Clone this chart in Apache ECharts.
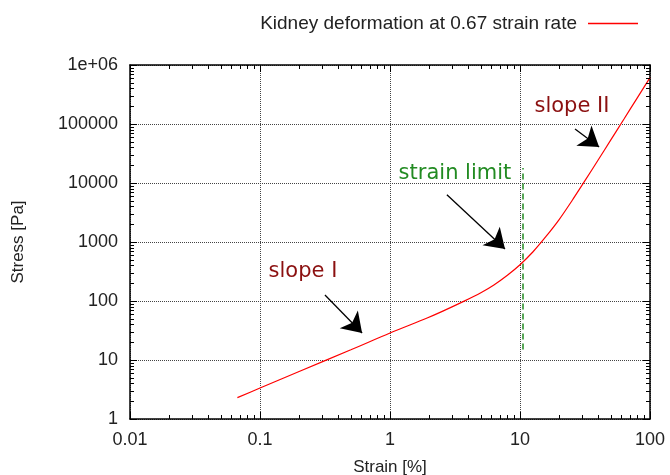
<!DOCTYPE html>
<html>
<head>
<meta charset="utf-8">
<script src="https://cdn.jsdelivr.net/npm/echarts@6/dist/echarts.min.js"></script>
<style>
  html, body { margin: 0; padding: 0; background: #fff; }
  #main { width: 670px; height: 475px; }
</style>
</head>
<body>
<div id="main"></div>
<script>
var chart = echarts.init(document.getElementById('main'), null, { renderer: 'canvas' });

// strain [%] and stress [Pa]
var strain = [0.067, 0.1, 0.2, 0.5, 1, 1.93, 2.5, 3.65, 5, 6.3, 8, 10, 12.6, 15.8, 20, 25.1, 31.6, 39.8, 50.1, 63.1, 79.4, 100];
var stress = [2.3, 3.35, 6.4, 14.9, 28.7, 51.5, 66, 97.5, 138, 187, 273, 412, 684, 1230, 2400, 5010, 10960, 24300, 54300, 121600, 272000, 610000];

var xDecades = [0.01, 0.1, 1, 10];
var yDecades = [1, 10, 100, 1000, 10000, 100000];

// strain limit line
var limitX = 10.5;
var limitY = [15, 18000];

// annotations: [text, x, y, colour]
var notes = [
    ['slope I', 0.214, 315, '#8b1010'],
    ['strain limit', 3.16, 14500, '#228b22'],
    ['slope II', 25.1, 200000, '#8b1010']
];
// arrows: [[x1, y1], [x2, y2]]
var arrows = [
    [[0.316, 126], [0.61, 28.7]],
    [[2.74, 6300], [7.67, 760]],
    [[26.5, 82200], [40.6, 40700]]
];

var data = strain.map(function (s, i) { return [s, stress[i]] })

var font = 'Liberation Sans, Arial, sans-serif'
var seriesName = 'Kidney deformation at 0.67 strain rate'

// minor tick values: 2..9 in every decade
function minorValues(decades) {
    var out = []
    decades.forEach(function (d) {
        for (var k = 2; k < 10; k++) out.push(+(d * k).toPrecision(3))
    })
    return out
}
var xMinor = minorValues(xDecades)
var yMinor = minorValues(yDecades)

function yFmt(v) {
    if (v >= 1000000) return '1e+06'
    return String(Math.round(v))
}
function xFmt(v) {
    return String(+v.toPrecision(3))
}

var baseAxis = {
    type: 'log',
    logBase: 10,
    axisLine: { show: true, onZero: false, lineStyle: { color: '#000', width: 1.5 } },
    axisTick: { show: true, inside: true, length: 7, lineStyle: { color: '#000' } },
    splitLine: { show: false }
}

// short inward tick drawn as a 1px rect
function tickRect(x, y, w, h) {
    return { type: 'rect', shape: { x: x, y: y, width: w, height: h }, style: { fill: '#000' } }
}

chart.setOption({
    animation: false,
    backgroundColor: '#fff',
    color: ['#ff0000'],
    textStyle: { fontFamily: font },
    legend: {
        top: 9,
        right: 27,
        align: 'right',
        itemWidth: 50,
        itemHeight: 1.5,
        textStyle: { fontSize: 19, color: '#222', fontFamily: font, padding: [0, 6, 0, 0] },
        data: [{ name: seriesName, icon: 'rect', itemStyle: { color: '#ff0000', borderWidth: 0 } }]
    },
    grid: { left: 130, right: 20, top: 65, bottom: 56, outerBoundsMode: 'none', containLabel: false },
    xAxis: [
        Object.assign({}, baseAxis, {
            min: 0.01, max: 100,
            name: 'Strain [%]',
            nameLocation: 'middle',
            nameGap: 40,
            nameTextStyle: { fontSize: 17, color: '#222' },
            axisLabel: { fontSize: 18, color: '#222', margin: 12, formatter: xFmt },
            splitLine: { show: true, lineStyle: { type: 'dotted', color: '#444', width: 1 } }
        }),
        Object.assign({}, baseAxis, {
            min: 0.01, max: 100, position: 'top',
            axisLabel: { show: false }
        })
    ],
    yAxis: [
        Object.assign({}, baseAxis, {
            min: 1, max: 1000000,
            name: 'Stress [Pa]',
            nameLocation: 'middle',
            nameGap: 103,
            nameTextStyle: { fontSize: 17, color: '#222' },
            axisLabel: { fontSize: 18, color: '#222', margin: 12, formatter: yFmt },
            splitLine: { show: true, lineStyle: { type: 'dotted', color: '#444', width: 1 } }
        }),
        Object.assign({}, baseAxis, {
            min: 1, max: 1000000, position: 'right',
            axisLabel: { show: false }
        })
    ],
    series: [
        {
            name: seriesName,
            type: 'line',
            data: data,
            smooth: 0.3,
            symbol: 'none',
            lineStyle: { color: '#ff0000', width: 1.2 },
            itemStyle: { color: '#ff0000' },
            z: 5,
            markPoint: {
                symbol: 'rect',
                symbolSize: 1,
                itemStyle: { color: 'rgba(0,0,0,0)' },
                silent: true,
                data: notes.map(function (n) {
                    return {
                        coord: [n[1], n[2]],
                        label: {
                            show: true, position: 'inside', formatter: n[0],
                            color: n[3], fontSize: 21, fontFamily: 'DejaVu Sans'
                        }
                    }
                })
            },
            markLine: {
                silent: true,
                animation: false,
                symbol: ['none', 'arrow'],
                symbolSize: 19,
                label: { show: false },
                lineStyle: { color: '#000', width: 1.3, type: 'solid' },
                data: arrows.map(function (a) {
                    return [{ coord: a[0] }, { coord: a[1] }]
                }).concat([[
                    { coord: [limitX, limitY[0]], symbol: 'none', lineStyle: { color: '#228b22', type: [6, 4], width: 1.5 } },
                    { coord: [limitX, limitY[1]], symbol: 'none' }
                ]])
            }
        },
        {
            // minor ticks on the bottom and top border
            name: 'xminor',
            type: 'custom',
            silent: true,
            z: 10,
            data: xMinor.map(function (v) { return [v, 1] }),
            renderItem: function (params, api) {
                var b = api.coord([api.value(0), 1])
                var t = api.coord([api.value(0), 1000000])
                var x = Math.round(b[0])
                return {
                    type: 'group',
                    children: [tickRect(x, b[1] - 4, 1, 4), tickRect(x, t[1], 1, 4)]
                }
            }
        },
        {
            // minor ticks on the left and right border
            name: 'yminor',
            type: 'custom',
            silent: true,
            z: 10,
            data: yMinor.map(function (v) { return [0.01, v] }),
            renderItem: function (params, api) {
                var l = api.coord([0.01, api.value(1)])
                var r = api.coord([100, api.value(1)])
                var y = Math.round(l[1])
                return {
                    type: 'group',
                    children: [tickRect(l[0], y, 4, 1), tickRect(r[0] - 4, y, 4, 1)]
                }
            }
        }
    ]
})
</script>
</body>
</html>
